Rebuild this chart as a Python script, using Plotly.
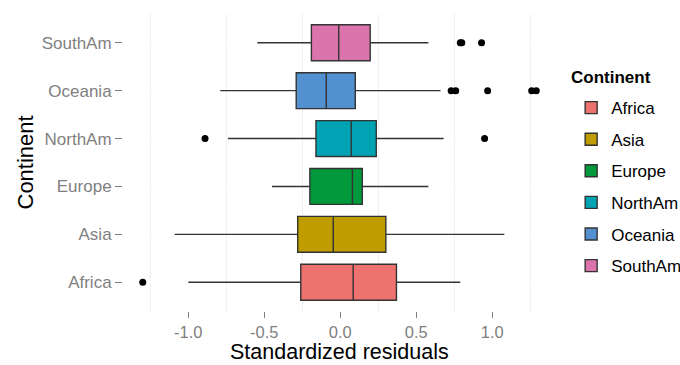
import plotly.graph_objects as go

continents = ["Africa", "Asia", "Europe", "NorthAm", "Oceania", "SouthAm"]
colors = ["#EE7270", "#BF9D00", "#00993B", "#00A3B3", "#5290D0", "#DB74AC"]
lower_fence = [-1.00, -1.09, -0.45, -0.74, -0.79, -0.546]
q1 = [-0.26, -0.28, -0.20, -0.16, -0.29, -0.19]
median = [0.085, -0.046, 0.08, 0.072, -0.092, -0.01]
q3 = [0.37, 0.30, 0.145, 0.237, 0.099, 0.197]
upper_fence = [0.79, 1.08, 0.58, 0.68, 0.66, 0.58]
outliers = {
    "Africa": [-1.30],
    "Asia": [],
    "Europe": [],
    "NorthAm": [-0.89, 0.95],
    "Oceania": [0.73, 0.76, 0.97, 1.26, 1.29],
    "SouthAm": [0.79, 0.80, 0.93],
}
x_ticks = [-1.0, -0.5, 0.0, 0.5, 1.0]
x_ticktext = ["-1.0", "-0.5", "0.0", "0.5", "1.0"]

FONT = "Liberation Sans, Arial, sans-serif"
fig = go.Figure()
for i, c in enumerate(continents):
    fig.add_trace(go.Box(
        y=[c], name=c, orientation="h",
        q1=[q1[i]], median=[median[i]], q3=[q3[i]],
        lowerfence=[lower_fence[i]], upperfence=[upper_fence[i]],
        fillcolor=colors[i], line=dict(color="#333333", width=1.4),
        whiskerwidth=0, width=0.75, boxpoints=False,
        legendgroup=c, hoverinfo="skip",
    ))
for c in continents:
    if outliers[c]:
        fig.add_trace(go.Scatter(
            x=outliers[c], y=[c] * len(outliers[c]), mode="markers",
            marker=dict(color="black", size=7), showlegend=False,
            hoverinfo="skip",
        ))

fig.update_layout(
    width=680, height=365,
    margin=dict(l=123, r=124, t=14, b=54, autoexpand=False),
    paper_bgcolor="white", plot_bgcolor="white",
    font=dict(family=FONT, color="black"),
    boxmode="overlay",
    legend=dict(
        font=dict(size=17, family=FONT),
        x=1.035, y=0.744, xanchor="left", yanchor="top",
        tracegroupgap=6.5, traceorder="grouped",
        bgcolor="rgba(0,0,0,0)",
    ),
    annotations=[
        dict(text="<b>Continent</b>", font=dict(size=17, family=FONT),
             xref="paper", yref="paper", x=1.03, y=0.785,
             xanchor="left", yanchor="middle", showarrow=False),
        dict(text="Standardized residuals", font=dict(size=21.5, family=FONT),
             xref="paper", yref="paper", x=0.5, y=-0.137,
             xanchor="center", yanchor="middle", showarrow=False),
        dict(text="Continent", font=dict(size=22, family=FONT), textangle=-90,
             xref="paper", yref="paper", x=-0.2263, y=0.5,
             xanchor="center", yanchor="middle", showarrow=False),
    ],
    xaxis=dict(
        range=[-1.43, 1.42], tickvals=x_ticks, ticktext=x_ticktext,
        showgrid=False, zeroline=False, showline=False, automargin=False,
        ticks="outside", ticklen=6, tickcolor="#7F7F7F", tickwidth=1,
        tickfont=dict(size=16.5, color="#7F7F7F", family=FONT),
        minor=dict(tick0=0.25, dtick=0.5, showgrid=True, gridcolor="#EFEFEF",
                   gridwidth=1, ticks=""),
    ),
    yaxis=dict(
        type="category", categoryorder="array", categoryarray=continents,
        range=[-0.6, 5.6], showgrid=True, gridcolor="white", gridwidth=2,
        zeroline=False, showline=False, automargin=False,
        ticks="outside", ticklen=7, tickcolor="#7F7F7F", tickwidth=1,
        tickfont=dict(size=17, color="#7F7F7F", family=FONT),
    ),
)
fig.write_html("out.html")
